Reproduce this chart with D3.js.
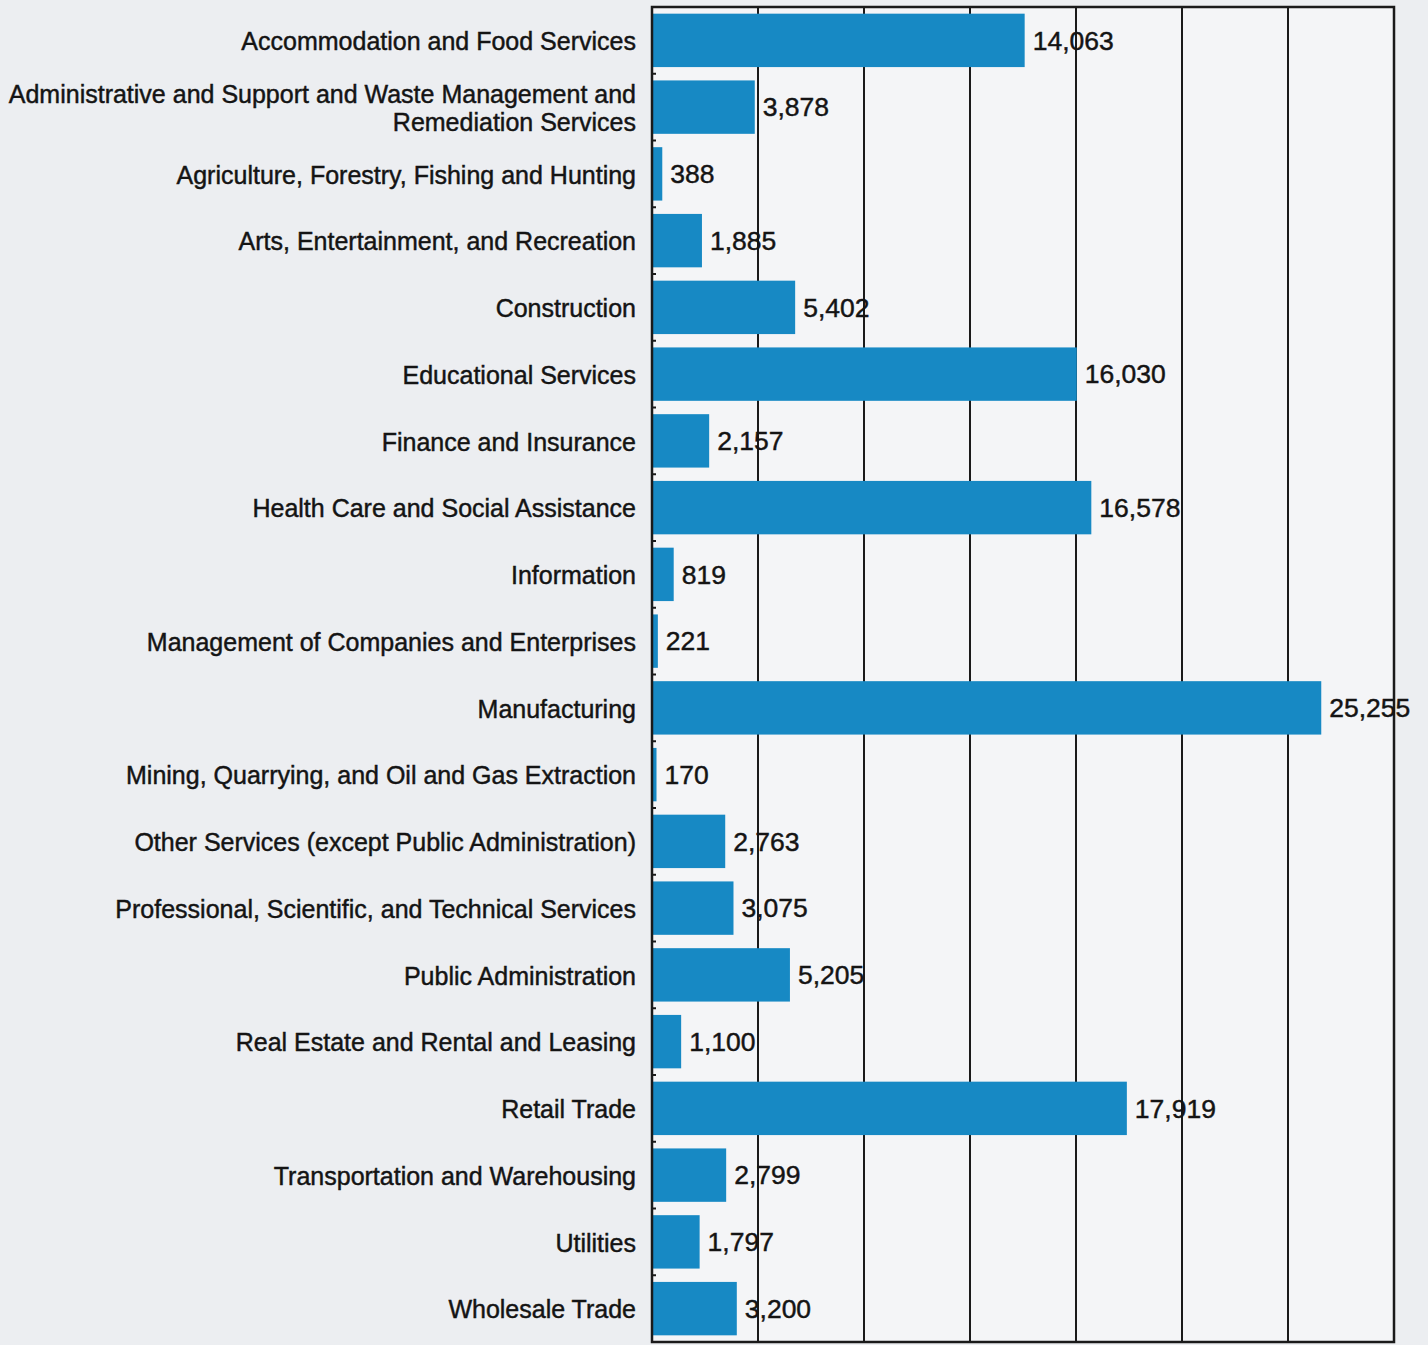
<!DOCTYPE html>
<html>
<head>
<meta charset="utf-8">
<script src="https://cdn.jsdelivr.net/npm/d3@7"></script>
<style>
  body { margin: 0; background: #eceef1; }
  svg text { font-family: "Liberation Sans", Arial, sans-serif; fill: #141414; stroke: #141414; stroke-width: 0.45px; }
</style>
</head>
<body>
<div class="chart"></div>
<script>
var width = 1428,
    height = 1345;

// industries, top to bottom
var categories = [
  "Accommodation and Food Services",
  "Administrative and Support and Waste Management and|Remediation Services",
  "Agriculture, Forestry, Fishing and Hunting",
  "Arts, Entertainment, and Recreation",
  "Construction",
  "Educational Services",
  "Finance and Insurance",
  "Health Care and Social Assistance",
  "Information",
  "Management of Companies and Enterprises",
  "Manufacturing",
  "Mining, Quarrying, and Oil and Gas Extraction",
  "Other Services (except Public Administration)",
  "Professional, Scientific, and Technical Services",
  "Public Administration",
  "Real Estate and Rental and Leasing",
  "Retail Trade",
  "Transportation and Warehousing",
  "Utilities",
  "Wholesale Trade"
];
var values = [14063, 3878, 388, 1885, 5402, 16030, 2157, 16578, 819, 221,
              25255, 170, 2763, 3075, 5205, 1100, 17919, 2799, 1797, 3200];
var xTicks = [0, 4000, 8000, 12000, 16000, 20000, 24000, 28000];

var plot = { left: 652, right: 1394, top: 7, bottom: 1342 };

var svg = d3.select(".chart").append("svg")
            .attr("width", width)
            .attr("height", height);

svg.append("rect")
   .attr("width", width).attr("height", height)
   .attr("fill", "#eceef1");

var x = d3.scaleLinear().domain([0, 28000]).range([plot.left, plot.right]);
var y = d3.scaleBand().domain(d3.range(categories.length))
          .range([plot.top, plot.bottom]).paddingInner(0.2).paddingOuter(0.1);
var yStep = d3.scaleBand().domain(d3.range(categories.length))
          .range([plot.top, plot.bottom]);

// plot background
svg.append("rect")
   .attr("x", plot.left).attr("y", plot.top)
   .attr("width", plot.right - plot.left).attr("height", plot.bottom - plot.top)
   .attr("fill", "#f4f5f7");

// vertical gridlines
svg.selectAll("line.grid")
   .data(xTicks.slice(1, -1))
   .enter().append("line")
   .attr("class", "grid")
   .attr("x1", d => x(d)).attr("x2", d => x(d))
   .attr("y1", plot.top).attr("y2", plot.bottom)
   .style("stroke", "#1a1a1a")
   .style("stroke-width", 2);

// bars
svg.selectAll("rect.bar")
   .data(values)
   .enter().append("rect")
   .attr("class", "bar")
   .attr("x", x(0))
   .attr("y", (d, i) => y(i))
   .attr("width", d => x(d) - x(0))
   .attr("height", y.bandwidth())
   .attr("fill", "#1789c4");

// frame
svg.append("rect")
   .attr("x", plot.left).attr("y", plot.top)
   .attr("width", plot.right - plot.left).attr("height", plot.bottom - plot.top)
   .style("fill", "none")
   .style("stroke", "#1a1a1a")
   .style("stroke-width", 2.5);

// category tick marks on the left axis
svg.selectAll("line.ytick")
   .data(d3.range(1, categories.length))
   .enter().append("line")
   .attr("class", "ytick")
   .attr("x1", plot.left - 1).attr("x2", plot.left + 4)
   .attr("y1", d => yStep(d)).attr("y2", d => yStep(d))
   .style("stroke", "#1a1a1a")
   .style("stroke-width", 2);

// category labels
var fs = 25;
svg.selectAll("text.cat")
   .data(categories)
   .enter().append("text")
   .attr("class", "cat")
   .attr("text-anchor", "end")
   .style("font-size", fs + "px")
   .each(function(d, i) {
       var lines = d.split("|");
       var cy = y(i) + y.bandwidth() / 2 + 1;
       var lh = 28;
       var t = d3.select(this);
       lines.forEach(function(ln, j) {
           t.append("tspan")
            .attr("x", plot.left - 16)
            .attr("y", cy + (j - (lines.length - 1) / 2) * lh)
            .attr("dy", "0.35em")
            .text(ln);
       });
   });

// value labels
var fmt = d3.format(",");
svg.selectAll("text.val")
   .data(values)
   .enter().append("text")
   .attr("class", "val")
   .attr("x", d => x(d) + 8)
   .attr("y", (d, i) => y(i) + y.bandwidth() / 2)
   .attr("dy", "0.35em")
   .style("font-size", "26.5px")
   .text(d => fmt(d));
</script>
</body>
</html>
